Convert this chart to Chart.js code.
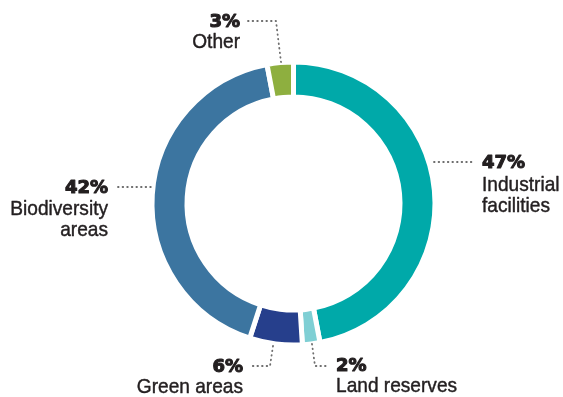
<!DOCTYPE html>
<html>
<head>
<meta charset="utf-8">
<script src="https://cdn.jsdelivr.net/npm/chart.js@4"></script>
<style>
  html, body { margin: 0; padding: 0; background: #fff; }
  #wrap { width: 563px; height: 397px; }
</style>
</head>
<body>
<div id="wrap"><canvas id="landChart" width="563" height="397"></canvas></div>
<script>
// Land use shares (clockwise from top)
const categories = ['Industrial facilities', 'Land reserves', 'Green areas', 'Biodiversity areas', 'Other'];
const shares = [47, 2, 6, 42, 3];
const colors = ['#00a9a9', '#7fcfd4', '#263f8c', '#3c75a0', '#8eaf3f'];

// label lines as they are broken in the picture
const labelLines = [['Industrial', 'facilities'], ['Land reserves'], ['Green areas'], ['Biodiversity', 'areas'], ['Other']];

// where each callout goes (pixels)
const callouts = [
    { x: 482, align: 'left',  pctY: 168, nameY: 191, leader: [[434, 162], [474, 162]] },
    { x: 336, align: 'left',  pctY: 371, nameY: 392, leader: [[312, 344], [315, 366], [329, 366]] },
    { x: 243, align: 'right', pctY: 372, nameY: 393, leader: [[273, 346], [270, 366], [250, 366]] },
    { x: 108, align: 'right', pctY: 193, nameY: 215, leader: [[118, 187], [153, 187]] },
    { x: 240, align: 'right', pctY: 27,  nameY: 48,  leader: [[248, 21], [276, 21], [281, 62]] }
];

const outerR = 141.5;
const innerR = 106.5;
const gap = 5;

const calloutPlugin = {
    id: 'callouts',
    afterDraw(chart) {
        const ctx = chart.ctx;
        ctx.save();
        categories.forEach(function(cat, i) {
            const c = callouts[i];
            // dotted leader
            ctx.strokeStyle = '#6e6e6e';
            ctx.lineWidth = 1.8;
            ctx.lineCap = 'round';
            ctx.setLineDash([0.6, 4]);
            ctx.beginPath();
            c.leader.forEach(function(p, k) {
                if (k === 0) ctx.moveTo(p[0], p[1]); else ctx.lineTo(p[0], p[1]);
            });
            ctx.stroke();
            ctx.setLineDash([]);
            ctx.lineCap = 'butt';

            ctx.fillStyle = '#231f20';
            ctx.strokeStyle = '#231f20';
            ctx.textAlign = c.align;
            ctx.textBaseline = 'alphabetic';
            ctx.font = 'bold 18px "DejaVu Sans"';
            ctx.lineWidth = 1.1;
            ctx.lineJoin = 'round';
            ctx.fillText(shares[i] + '%', c.x, c.pctY);
            ctx.strokeText(shares[i] + '%', c.x, c.pctY);

            ctx.font = '21px "Liberation Sans", Arial, sans-serif';
            ctx.lineWidth = 0.45;
            labelLines[i].forEach(function(line, k) {
                ctx.save();
                ctx.translate(c.x, c.nameY + k * 21);
                ctx.scale(0.91, 1);
                ctx.fillText(line, 0, 0);
                ctx.strokeText(line, 0, 0);
                ctx.restore();
            });
        });
        ctx.restore();
    }
};

new Chart(document.getElementById('landChart').getContext('2d'), {
    type: 'doughnut',
    data: {
        labels: categories,
        datasets: [{
            data: shares,
            backgroundColor: colors,
            borderColor: '#ffffff',
            borderWidth: gap,
            borderJoinStyle: 'miter',
            hoverOffset: 0
        }]
    },
    options: {
        responsive: false,
        animation: false,
        radius: outerR,
        cutout: (innerR / outerR * 100) + '%',
        layout: { padding: { left: 152, right: 128, top: 62, bottom: 52 } },
        plugins: {
            legend: { display: false },
            tooltip: { enabled: false }
        }
    },
    plugins: [calloutPlugin]
});
</script>
</body>
</html>
